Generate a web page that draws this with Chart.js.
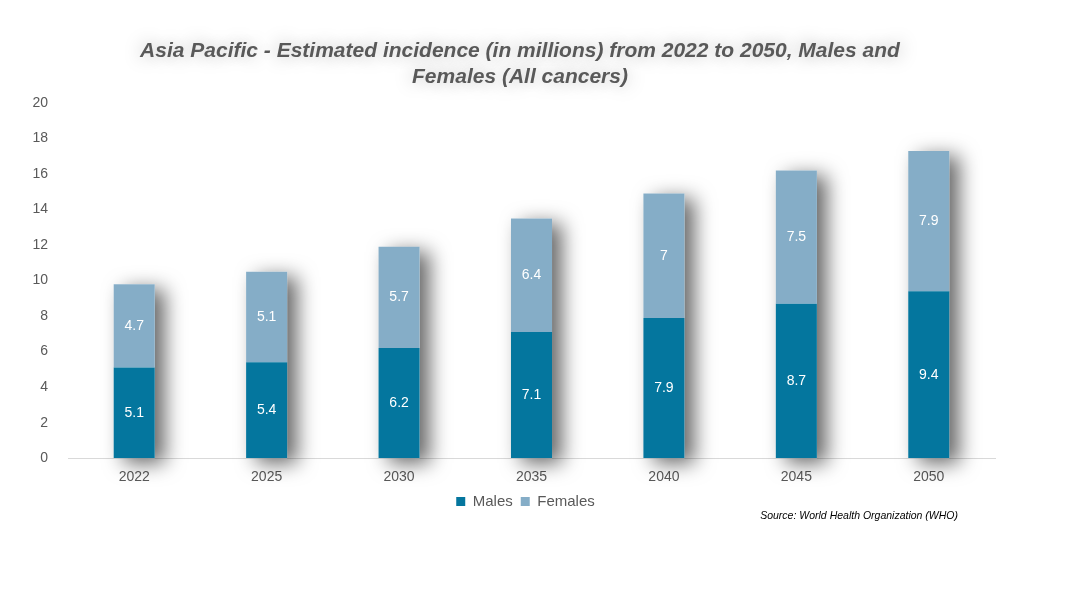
<!DOCTYPE html>
<html>
<head>
<meta charset="utf-8">
<script src="https://cdn.jsdelivr.net/npm/chart.js@4"></script>
<style>
  html, body { margin: 0; padding: 0; background: #fff; }
  #wrap { width: 1072px; height: 594px; position: relative; }
</style>
</head>
<body>
<div id="wrap"><canvas id="chart"></canvas></div>
<script>
// Data
const years = ['2022', '2025', '2030', '2035', '2040', '2045', '2050'];
const males = [5.1, 5.4, 6.2, 7.1, 7.9, 8.7, 9.4];
const females = [4.7, 5.1, 5.7, 6.4, 7, 7.5, 7.9];
const yTicks = [0, 2, 4, 6, 8, 10, 12, 14, 16, 18, 20];

const titleLines = ['Asia Pacific - Estimated incidence (in millions) from 2022 to 2050, Males and', 'Females (All cancers)'];
const sourceText = 'Source: World Health Organization (WHO)';

const grey = '#595959';
const font = '"Liberation Sans", Arial, sans-serif';

// soft drop shadow behind each whole stack, then white value labels
const barShadow = {
    id: 'barShadow',
    beforeDatasetsDraw(chart) {
        const ctx = chart.ctx;
        const bottom = chart.getDatasetMeta(0).data;
        const top = chart.getDatasetMeta(1).data;
        ctx.save();
        ctx.shadowColor = 'rgba(0,0,0,0.6)';
        ctx.shadowBlur = 20;
        ctx.shadowOffsetX = 10;
        ctx.shadowOffsetY = 5;
        ctx.fillStyle = '#fff';
        top.forEach((bar, j) => {
            const b = bottom[j];
            ctx.fillRect(bar.x - bar.width / 2, bar.y, bar.width, b.base - bar.y);
        });
        ctx.restore();
    },
    afterDatasetsDraw(chart) {
        const ctx = chart.ctx;
        ctx.save();
        ctx.fillStyle = '#fff';
        ctx.font = '14px ' + font;
        ctx.textAlign = 'center';
        ctx.textBaseline = 'middle';
        chart.data.datasets.forEach((ds, i) => {
            chart.getDatasetMeta(i).data.forEach((bar, j) => {
                const midY = (bar.y + bar.base) / 2;
                ctx.fillText(String(ds.data[j]), bar.x, midY);
            });
        });
        ctx.restore();
    }
};

// nudge legend into place
const legendShift = {
    id: 'legendShift',
    afterLayout(chart) {
        const lg = chart.legend;
        lg.left += 18; lg.right += 18;
        lg.top -= 3; lg.bottom -= 3;
    }
};

// title with grey glow and the source note
const extras = {
    id: 'extras',
    afterDraw(chart) {
        const ctx = chart.ctx;
        ctx.save();
        ctx.font = 'italic bold 21px ' + font;
        ctx.textAlign = 'center';
        ctx.textBaseline = 'middle';
        ctx.fillStyle = grey;
        ctx.shadowColor = 'rgba(0,0,0,0.35)';
        ctx.shadowBlur = 18;
        ctx.fillText(titleLines[0], 520, 51);
        ctx.fillText(titleLines[1], 520, 77);
        ctx.shadowBlur = 0;
        ctx.shadowColor = 'transparent';
        ctx.font = 'italic 10.5px ' + font;
        ctx.fillStyle = '#000';
        ctx.textAlign = 'right';
        ctx.fillText(sourceText, 958, 516);
        ctx.restore();
    }
};

const ctx = document.getElementById('chart').getContext('2d');
new Chart(ctx, {
    type: 'bar',
    data: {
        labels: years,
        datasets: [
            { label: 'Males', data: males, backgroundColor: '#04769E', borderWidth: 0 },
            { label: 'Females', data: females, backgroundColor: '#85ADC7', borderWidth: 0 }
        ]
    },
    options: {
        responsive: true,
        maintainAspectRatio: false,
        animation: false,
        layout: { padding: { left: 20, right: 77, top: 103, bottom: 72 } },
        datasets: { bar: { barPercentage: 0.31, categoryPercentage: 1 } },
        scales: {
            x: {
                stacked: true,
                grid: { display: false },
                border: { display: true, color: '#D9D9D9', width: 1 },
                ticks: { color: grey, font: { size: 14, family: font }, padding: 3 }
            },
            y: {
                stacked: true,
                min: 0,
                max: 20,
                afterBuildTicks(scale) {
                    scale.ticks = yTicks.map(v => ({ value: v }));
                },
                afterFit(scale) { scale.width = 48; },
                grid: { display: false },
                border: { display: false },
                ticks: { color: grey, font: { size: 14, family: font }, padding: 12 }
            }
        },
        plugins: {
            legend: {
                position: 'bottom',
                labels: {
                    boxWidth: 9,
                    boxHeight: 9,
                    padding: 8,
                    color: grey,
                    font: { size: 15, family: font }
                }
            },
            tooltip: { enabled: false },
            title: { display: false }
        }
    },
    plugins: [barShadow, legendShift, extras]
});
</script>
</body>
</html>
